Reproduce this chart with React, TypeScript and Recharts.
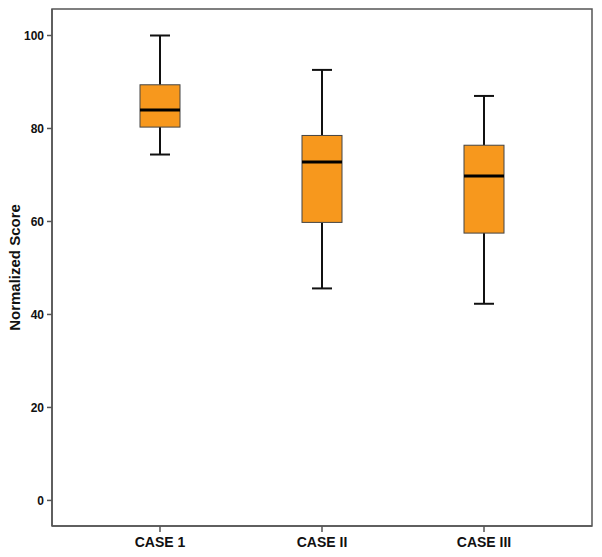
import React from "react";
import {
  ComposedChart,
  Bar,
  XAxis,
  YAxis,
  ReferenceArea,
  Label,
} from "recharts";

const cases = ["CASE 1", "CASE II", "CASE III"];
const mins = [74.4, 45.6, 42.3];
const q1s = [80.3, 59.8, 57.5];
const medians = [84.0, 72.8, 69.8];
const q3s = [89.4, 78.5, 76.4];
const maxs = [100, 92.6, 87.0];
const yTicks = [0, 20, 40, 60, 80, 100];

const data = cases.map((name, i) => ({
  pos: i + 1,
  name,
  min: mins[i],
  q1: q1s[i],
  median: medians[i],
  q3: q3s[i],
  max: maxs[i],
  range: [mins[i], maxs[i]],
}));

const BOX_FILL = "#F7981D";
const font = "'Liberation Sans', Arial, sans-serif";

// the bar spans min..max, so the other stats are placed along it
const BoxShape = (props: any) => {
  const { x, y, width, height, payload } = props;
  const { min, max, q1, q3, median } = payload;
  const py = (v: number) => y + ((max - v) / (max - min)) * height;
  const cx = x + width / 2;
  const cap = 10;
  return (
    <g>
      <line x1={cx} x2={cx} y1={py(max)} y2={py(q3)} stroke="#111" strokeWidth={2} />
      <line x1={cx} x2={cx} y1={py(q1)} y2={py(min)} stroke="#111" strokeWidth={2} />
      <line x1={cx - cap} x2={cx + cap} y1={py(max)} y2={py(max)} stroke="#111" strokeWidth={2} />
      <line x1={cx - cap} x2={cx + cap} y1={py(min)} y2={py(min)} stroke="#111" strokeWidth={2} />
      <rect
        x={x}
        y={py(q3)}
        width={width}
        height={py(q1) - py(q3)}
        fill={BOX_FILL}
        stroke="#444"
        strokeWidth={1}
      />
      <line x1={x} x2={x + width} y1={py(median)} y2={py(median)} stroke="#000" strokeWidth={3} />
    </g>
  );
};

export default function App() {
  return (
    <div style={{ position: "absolute", left: 0, top: 0, background: "#fff" }}>
      <ComposedChart
        width={602}
        height={557}
        data={data}
        margin={{ top: 9, right: 10, left: 0, bottom: 0 }}
      >
        <XAxis
          dataKey="pos"
          type="number"
          domain={[1 / 3, 11 / 3]}
          ticks={[1, 2, 3]}
          tickFormatter={(v: number) => cases[v - 1]}
          height={31}
          stroke="#555"
          strokeWidth={1.5}
          tickSize={6}
          tick={{ fill: "#111", fontSize: 14, fontWeight: "bold", fontFamily: font }}
          tickMargin={5}
        />
        <YAxis
          type="number"
          domain={[-5.5, 105.7]}
          ticks={yTicks}
          width={52}
          stroke="#555"
          strokeWidth={1.5}
          tickSize={5}
          tickMargin={3}
          tick={{ fill: "#111", fontSize: 12, fontWeight: "bold", fontFamily: font }}
        >
          <Label
            value="Normalized Score"
            angle={-90}
            position="insideLeft"
            offset={15}
            fill="#111"
            style={{
              textAnchor: "middle",
              fontSize: "15px",
              fontWeight: "bold",
              fontFamily: font,
            }}
          />
        </YAxis>
        <ReferenceArea
          x1={1 / 3}
          x2={11 / 3}
          y1={-5.5}
          y2={105.7}
          fill="none"
          stroke="#555"
          strokeWidth={1.5}
          strokeOpacity={1}
        />
        <Bar dataKey="range" barSize={40} shape={BoxShape} isAnimationActive={false} />
      </ComposedChart>
    </div>
  );
}
